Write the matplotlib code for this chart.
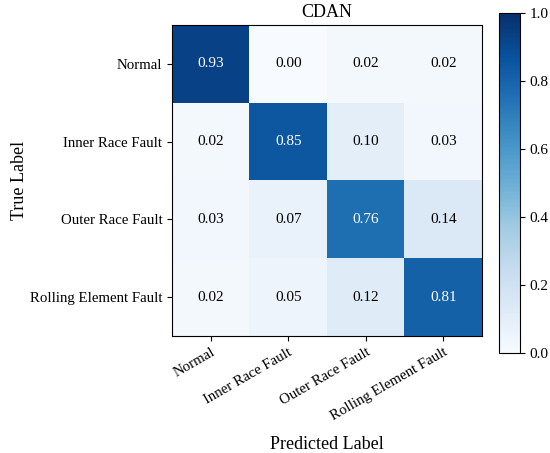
import numpy as np
import matplotlib.pyplot as plt

plt.rcParams['font.family'] = ['Liberation Serif', 'DejaVu Serif']

klassen = ['Normal', 'Inner Race Fault', 'Outer Race Fault', 'Rolling Element Fault']
werte = np.array([
    [0.93, 0.00, 0.02, 0.02],
    [0.02, 0.85, 0.10, 0.03],
    [0.03, 0.07, 0.76, 0.14],
    [0.02, 0.05, 0.12, 0.81],
])
titel = 'CDAN'

fig = plt.figure(figsize=(5.5, 4.53), dpi=100)
ax = fig.add_axes([0.3127, 0.2583, 0.5636, 0.6865])
cax = fig.add_axes([0.907, 0.2208, 0.038, 0.7506])

im = ax.imshow(werte, cmap='Blues', vmin=0, vmax=1, aspect='auto')
cb = fig.colorbar(im, cax=cax)
cb.set_ticks([0.0, 0.2, 0.4, 0.6, 0.8, 1.0])
cb.ax.tick_params(labelsize=11)

for i in range(werte.shape[0]):
    for j in range(werte.shape[1]):
        farbe = 'white' if werte[i, j] > 0.5 else 'black'
        ax.text(j, i, f'{werte[i, j]:.2f}', ha='center', va='center',
                color=farbe, fontsize=11)

ax.set_xticks(range(len(klassen)))
ax.set_yticks(range(len(klassen)))
ax.set_xticklabels(klassen, rotation=30, ha='right', rotation_mode='anchor', fontsize=10.7)
ax.set_yticklabels(klassen, fontsize=10.7)
ax.set_title(titel, fontsize=13)
ax.set_xlabel('Predicted Label', fontsize=13, labelpad=9)
ax.set_ylabel('True Label', fontsize=13, labelpad=1)

fig.savefig('out.png', dpi=100)
